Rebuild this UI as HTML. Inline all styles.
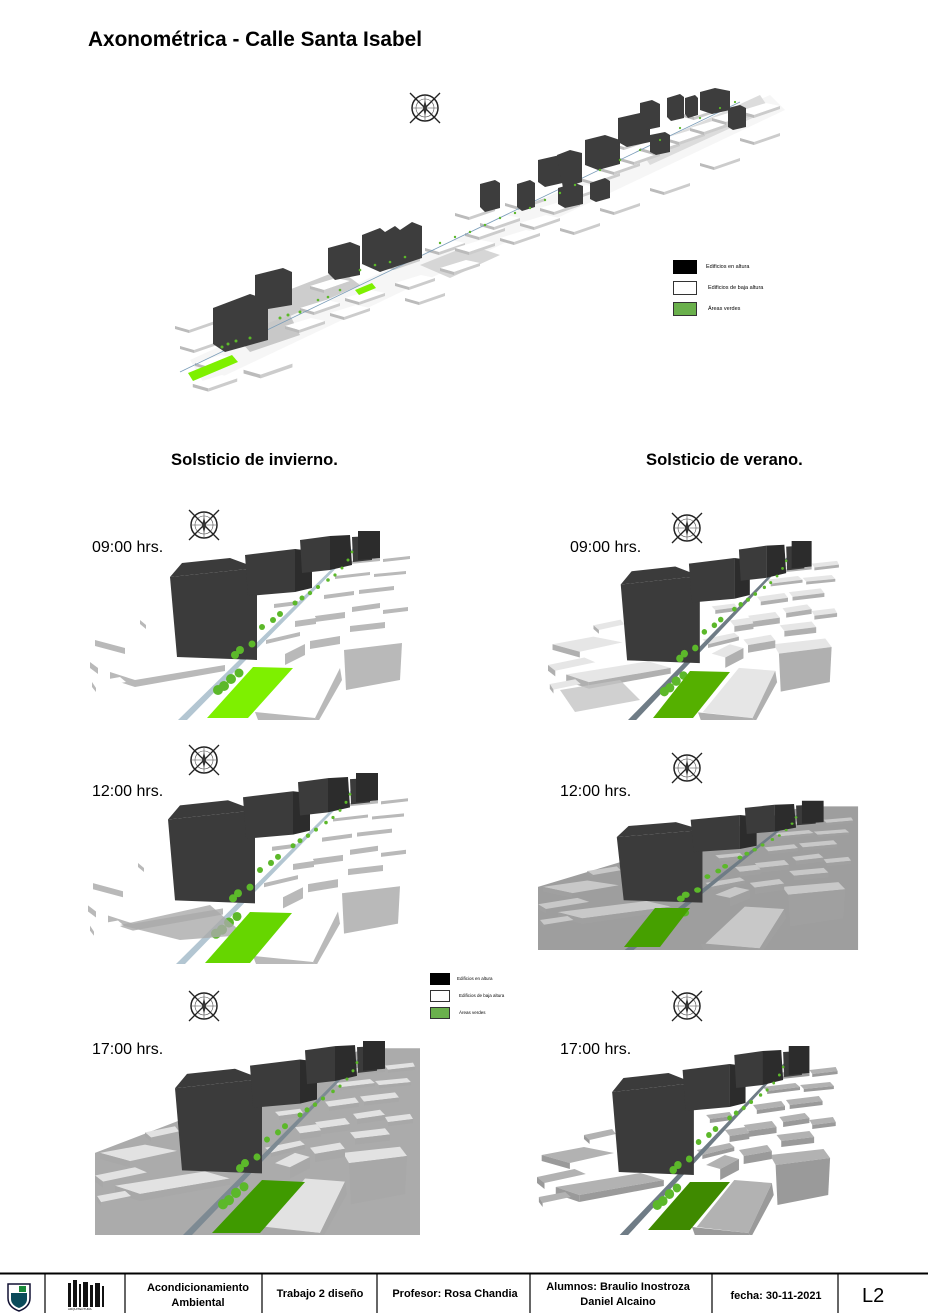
<!DOCTYPE html>
<html><head><meta charset="utf-8"><style>
html,body{margin:0;padding:0;background:#fff;}
svg{display:block;font-family:"Liberation Sans",sans-serif;}
.p1{--top:#fff;--side:#b9b9b9;--ground:none;--dark:#3b3b3b;--dark2:#2c2c2c;--road:#b3c6d2;}
.p2{--top:#e2e2e2;--side:#a8a8a8;--ground:#ababab;--dark:#3b3b3b;--dark2:#2c2c2c;--road:#7d8a93;}
.p3{--top:#c8c8c8;--side:#a0a0a0;--ground:#9e9e9e;--dark:#3b3b3b;--dark2:#2c2c2c;--road:#6f7c86;}
.p4{--top:#b2b2b2;--side:#9a9a9a;--ground:none;--dark:#3b3b3b;--dark2:#2c2c2c;--road:#6f7c86;}
</style></head><body>
<svg width="928" height="1313" viewBox="0 0 928 1313" xmlns="http://www.w3.org/2000/svg">
<defs>
<symbol id="blk" viewBox="0 0 40 18" overflow="visible">
<polygon points="0,8 26,0 40,3 14,12" fill="#fff"/>
<polygon points="0,8 14,12 14,15 0,11" fill="#bbb"/>
<polygon points="14,12 40,3 40,6 14,15" fill="#ccc"/>
</symbol>
<symbol id="cmp" viewBox="0 0 40 40" overflow="visible">
<circle cx="20" cy="20" r="13" fill="none" stroke="#222" stroke-width="1.5"/>
<circle cx="20" cy="20" r="9" fill="none" stroke="#555" stroke-width="0.6"/>
<line x1="5" y1="5" x2="35" y2="35" stroke="#222" stroke-width="1.3"/>
<line x1="35" y1="5" x2="5" y2="35" stroke="#222" stroke-width="1.3"/>
<line x1="20" y1="8" x2="20" y2="32" stroke="#444" stroke-width="0.6"/>
<line x1="8" y1="20" x2="32" y2="20" stroke="#444" stroke-width="0.6"/>
<polygon points="20,12 22,20 20,28 18,20" fill="#333"/>
</symbol>
<symbol id="scene" viewBox="0 -10 330 190" preserveAspectRatio="none">
<polygon points="0,100 200,25 270,-2 325,-2 325,185 0,185" style="fill:var(--ground)"/>
<polygon points="5,100 50,92 82,98 35,108" style="fill:var(--top)"/><polygon points="5,100 35,108 35,114 5,106" style="fill:var(--side)"/>
<polygon points="0,122 40,114 52,119 8,128" style="fill:var(--top)"/><polygon points="0,122 8,128 8,134 0,128" style="fill:var(--side)"/>
<polygon points="20,132 110,118 135,125 45,140" style="fill:var(--top)"/><polygon points="20,132 45,140 45,147 20,139" style="fill:var(--side)"/><polygon points="45,140 135,125 135,131 45,147" style="fill:var(--side)"/>
<polygon points="50,80 80,74 84,79 56,85" style="fill:var(--top)"/><polygon points="50,80 56,85 56,89 50,84" style="fill:var(--side)"/>
<polygon points="2,142 30,137 36,142 6,148" style="fill:var(--top)"/><polygon points="2,142 6,148 6,152 2,147" style="fill:var(--side)"/>
<polygon points="170,172 210,125 250,128 225,178" style="fill:var(--top)"/><polygon points="225,178 250,128 252,140 228,182" style="fill:var(--side)"/><polygon points="165,172 225,178 228,182 168,180" style="fill:var(--side)"/>
<polygon points="248,100 305,94 312,103 254,110" style="fill:var(--top)"/><polygon points="254,110 312,103 310,140 256,150" style="fill:var(--side)"/>
<polygon points="180,110 200,100 215,104 195,114" style="fill:var(--top)"/><polygon points="195,114 215,104 215,115 195,125" style="fill:var(--side)"/>
<polygon points="170,95 205,88 210,92 176,100" style="fill:var(--top)"/><polygon points="176,100 210,92 210,96 176,104" style="fill:var(--side)"/>
<polygon points="215,95 245,90 250,96 220,101" style="fill:var(--top)"/><polygon points="220,101 250,96 250,104 220,109" style="fill:var(--side)"/>
<polygon points="220,70 250,66 255,72 225,76" style="fill:var(--top)"/><polygon points="225,76 255,72 255,78 225,82" style="fill:var(--side)"/>
<polygon points="255,80 290,76 295,82 260,86" style="fill:var(--top)"/><polygon points="260,86 295,82 295,88 260,92" style="fill:var(--side)"/>
<polygon points="258,62 285,58 290,63 262,67" style="fill:var(--top)"/><polygon points="262,67 290,63 290,68 262,72" style="fill:var(--side)"/>
<polygon points="290,65 315,62 318,67 293,70" style="fill:var(--top)"/><polygon points="293,70 318,67 318,71 293,74" style="fill:var(--side)"/>
<polygon points="230,50 260,46 264,51 234,55" style="fill:var(--top)"/><polygon points="234,55 264,51 264,55 234,59" style="fill:var(--side)"/>
<polygon points="265,45 300,41 304,46 269,50" style="fill:var(--top)"/><polygon points="269,50 304,46 304,50 269,54" style="fill:var(--side)"/>
<polygon points="240,32 275,28 280,32 245,36" style="fill:var(--top)"/><polygon points="245,36 280,32 280,35 245,39" style="fill:var(--side)"/>
<polygon points="280,30 312,27 316,31 284,34" style="fill:var(--top)"/><polygon points="284,34 316,31 316,34 284,37" style="fill:var(--side)"/>
<polygon points="255,18 285,15 290,18 260,21" style="fill:var(--top)"/><polygon points="260,21 290,18 290,21 260,24" style="fill:var(--side)"/>
<polygon points="290,15 318,12 320,16 293,19" style="fill:var(--top)"/><polygon points="293,19 320,16 320,19 293,22" style="fill:var(--side)"/>
<polygon points="200,75 222,72 226,78 205,81" style="fill:var(--top)"/><polygon points="205,81 226,78 226,84 205,87" style="fill:var(--side)"/>
<polygon points="180,60 205,57 208,61 184,64" style="fill:var(--top)"/><polygon points="184,64 208,61 208,65 184,68" style="fill:var(--side)"/>
<polygon points="88,180 97,180 266,8 263,8" style="fill:var(--road)"/>
<polygon points="92,23 140,18 167,28 80,37" style="fill:var(--dark)"/>
<polygon points="80,37 167,28 167,120 87,117" style="fill:var(--dark)"/>
<polygon points="155,15 205,9 205,52 158,56" style="fill:var(--dark)"/>
<polygon points="205,9 222,11 222,48 205,52" style="fill:var(--dark2)"/>
<polygon points="210,0 240,-4 240,30 212,33" style="fill:var(--dark)"/>
<polygon points="240,-4 260,-5 262,25 240,30" style="fill:var(--dark2)"/>
<polygon points="262,-3 282,-4 282,20 263,22" style="fill:var(--dark)"/>
<polygon points="268,-9 290,-9 290,18 268,20" style="fill:var(--dark2)"/>
<g fill="#5cb82a">
<circle cx="128" cy="150" r="5"/><circle cx="134" cy="146" r="5"/><circle cx="141" cy="139" r="5"/><circle cx="149" cy="133" r="4.5"/>
<circle cx="145" cy="115" r="4"/><circle cx="150" cy="110" r="4"/><circle cx="162" cy="104" r="3.5"/>
<circle cx="172" cy="87" r="3"/><circle cx="183" cy="80" r="3"/><circle cx="190" cy="74" r="3"/>
<circle cx="205" cy="63" r="2.5"/><circle cx="212" cy="58" r="2.5"/><circle cx="220" cy="53" r="2.2"/><circle cx="228" cy="47" r="2"/>
<circle cx="238" cy="40" r="1.8"/><circle cx="245" cy="35" r="1.6"/><circle cx="252" cy="28" r="1.5"/><circle cx="258" cy="20" r="1.5"/><circle cx="262" cy="12" r="1.4"/>
</g>
</symbol>
</defs>

<text x="88" y="46" font-size="20.8" font-weight="bold">Axonométrica - Calle Santa Isabel</text>

<use href="#cmp" x="405" y="88" width="40" height="40"/>
<g>
<polygon points="190,360 770,95 785,110 205,385" fill="#f6f6f6"/>
<polygon points="420,265 470,245 500,255 450,278" fill="#d6d6d6"/>
<polygon points="250,305 340,270 360,285 270,325" fill="#cdcdcd"/>
<polygon points="235,335 290,315 300,335 250,352" fill="#c8c8c8"/>
<polygon points="640,150 760,95 770,110 650,165" fill="#dcdcdc"/>
<use href="#blk" x="175" y="318" width="40" height="18"/>
<use href="#blk" x="180" y="338" width="40" height="18"/>
<use href="#blk" x="195" y="355" width="40" height="18"/>
<use href="#blk" x="238" y="360" width="60" height="22"/>
<use href="#blk" x="190" y="375" width="50" height="20"/>
<use href="#blk" x="285" y="318" width="40" height="18"/>
<use href="#blk" x="300" y="300" width="40" height="18"/>
<use href="#blk" x="310" y="278" width="40" height="18"/>
<use href="#blk" x="330" y="305" width="40" height="18"/>
<use href="#blk" x="345" y="290" width="40" height="18"/>
<use href="#blk" x="380" y="255" width="40" height="18"/>
<use href="#blk" x="395" y="275" width="40" height="18"/>
<use href="#blk" x="405" y="290" width="40" height="18"/>
<use href="#blk" x="425" y="240" width="40" height="18"/>
<use href="#blk" x="440" y="260" width="40" height="18"/>
<use href="#blk" x="455" y="240" width="40" height="18"/>
<use href="#blk" x="465" y="225" width="40" height="18"/>
<use href="#blk" x="480" y="215" width="40" height="18"/>
<use href="#blk" x="500" y="230" width="40" height="18"/>
<use href="#blk" x="520" y="215" width="40" height="18"/>
<use href="#blk" x="540" y="200" width="40" height="18"/>
<use href="#blk" x="560" y="185" width="40" height="18"/>
<use href="#blk" x="580" y="170" width="40" height="18"/>
<use href="#blk" x="600" y="160" width="40" height="18"/>
<use href="#blk" x="620" y="150" width="40" height="18"/>
<use href="#blk" x="640" y="140" width="40" height="18"/>
<use href="#blk" x="665" y="130" width="40" height="18"/>
<use href="#blk" x="690" y="120" width="40" height="18"/>
<use href="#blk" x="712" y="110" width="40" height="18"/>
<use href="#blk" x="740" y="103" width="40" height="18"/>
<use href="#blk" x="455" y="205" width="40" height="18"/>
<use href="#blk" x="505" y="195" width="40" height="18"/>
<use href="#blk" x="610" y="135" width="40" height="18"/>
<use href="#blk" x="680" y="105" width="40" height="18"/>
<use href="#blk" x="560" y="220" width="40" height="18"/>
<use href="#blk" x="600" y="200" width="40" height="18"/>
<use href="#blk" x="650" y="180" width="40" height="18"/>
<use href="#blk" x="700" y="155" width="40" height="18"/>
<use href="#blk" x="740" y="130" width="40" height="18"/>
<line x1="180" y1="372" x2="740" y2="102" stroke="#7a9cb8" stroke-width="0.8"/>
<polygon points="188,373 232,355 238,362 193,381" fill="#7ef000"/>
<polygon points="355,290 372,283 376,288 359,295" fill="#7ef000"/>
<g fill="#3d3d3d">
<polygon points="213,308 250,294 268,300 268,340 225,352 213,344"/>
<polygon points="255,275 283,268 292,272 292,305 262,310 255,302"/>
<polygon points="328,248 350,242 360,246 360,275 335,280 328,273"/>
<polygon points="362,235 380,228 385,232 395,226 400,230 412,222 422,226 422,258 380,272 362,264"/>
<polygon points="480,184 495,180 500,183 500,208 485,212 480,207"/>
<polygon points="517,184 530,180 535,183 535,207 522,211 517,207"/>
<polygon points="538,160 560,155 567,158 567,182 545,187 538,182"/>
<polygon points="557,155 570,150 582,153 582,182 563,188"/>
<polygon points="558,188 575,183 583,186 583,204 565,208 558,204"/>
<polygon points="590,183 605,178 610,181 610,198 596,202 590,199"/>
<polygon points="585,140 605,135 620,140 620,164 598,170 585,165"/>
<polygon points="618,118 640,113 650,116 650,142 627,147 618,142"/>
<polygon points="640,103 652,100 660,104 660,127 646,130 640,126"/>
<polygon points="650,135 665,132 670,135 670,152 656,155 650,152"/>
<polygon points="667,98 680,94 684,97 684,118 671,121 667,117"/>
<polygon points="685,98 695,95 698,98 698,115 688,118 685,114"/>
<polygon points="700,92 715,88 730,91 730,110 712,114 700,110"/>
<polygon points="728,108 740,105 746,108 746,127 733,130 728,127"/>
</g>
<g fill="#5cb82a">
<circle cx="222" cy="347" r="1.5"/><circle cx="228" cy="344" r="1.5"/><circle cx="236" cy="341" r="1.5"/><circle cx="250" cy="338" r="1.5"/>
<circle cx="280" cy="318" r="1.5"/><circle cx="288" cy="315" r="1.5"/><circle cx="300" cy="312" r="1.5"/>
<circle cx="318" cy="300" r="1.3"/><circle cx="328" cy="297" r="1.3"/><circle cx="340" cy="290" r="1.3"/>
<circle cx="360" cy="270" r="1.3"/><circle cx="375" cy="265" r="1.3"/><circle cx="390" cy="262" r="1.3"/><circle cx="405" cy="257" r="1.3"/>
<circle cx="440" cy="243" r="1.2"/><circle cx="455" cy="237" r="1.2"/><circle cx="470" cy="232" r="1.2"/><circle cx="485" cy="225" r="1.2"/>
<circle cx="500" cy="218" r="1.2"/><circle cx="515" cy="213" r="1.2"/><circle cx="530" cy="208" r="1.2"/><circle cx="545" cy="200" r="1.2"/>
<circle cx="560" cy="193" r="1.2"/><circle cx="575" cy="185" r="1.2"/><circle cx="600" cy="170" r="1.2"/><circle cx="620" cy="160" r="1.2"/>
<circle cx="640" cy="150" r="1.1"/><circle cx="660" cy="140" r="1.1"/><circle cx="680" cy="128" r="1.1"/><circle cx="700" cy="118" r="1.1"/><circle cx="720" cy="108" r="1.1"/><circle cx="735" cy="102" r="1.1"/>
</g>
</g>
<rect x="673" y="260" width="24" height="14" fill="#000"/>
<rect x="673.5" y="281.5" width="23" height="13" fill="#fff" stroke="#333"/>
<rect x="673.5" y="302.5" width="23" height="13" fill="#6ab04c" stroke="#333"/>
<text x="706" y="268" font-size="5.5">Edificios en altura</text>
<text x="708" y="289" font-size="5.5">Edificios de baja altura</text>
<text x="708" y="310" font-size="5.5">Áreas verdes</text>

<text x="171" y="465" font-size="16.6" font-weight="bold">Solsticio de invierno.</text>
<text x="646" y="465" font-size="16.6" font-weight="bold">Solsticio de verano.</text>

<use href="#cmp" x="184" y="505" width="40" height="40"/>
<use href="#cmp" x="667" y="508" width="40" height="40"/>
<use href="#cmp" x="184" y="740" width="40" height="40"/>
<use href="#cmp" x="667" y="748" width="40" height="40"/>
<use href="#cmp" x="184" y="986" width="40" height="40"/>
<use href="#cmp" x="667" y="986" width="40" height="40"/>

<text x="92" y="552" font-size="16">09:00 hrs.</text>
<text x="570" y="552" font-size="16">09:00 hrs.</text>
<text x="92" y="796" font-size="16">12:00 hrs.</text>
<text x="560" y="796" font-size="16">12:00 hrs.</text>
<text x="92" y="1054" font-size="16">17:00 hrs.</text>
<text x="560" y="1054" font-size="16">17:00 hrs.</text>

<g class="p1"><use href="#scene" x="90" y="530" width="330" height="190"/></g>
<polygon points="207,718 253,667 293,668 248,718" fill="#7ef000"/>
<g class="p1"><use href="#scene" x="88" y="772" width="330" height="192"/></g>
<polygon points="120,925 210,905 245,935 180,940" fill="#aaa" opacity="0.8"/>
<polygon points="205,963 250,912 292,913 250,963" fill="#66d600"/>
<g class="p2"><use href="#scene" x="95" y="1040" width="330" height="195"/></g>
<polygon points="212,1233 262,1180 305,1182 260,1233" fill="#3f9a00"/>
<g class="p4" style="--top:#e6e6e6;--side:#b0b0b0;--ground:none"><use href="#scene" x="548" y="540" width="300" height="180"/></g>
<polygon points="560,690 620,680 640,700 575,712" fill="#c4c4c4" opacity="0.8"/>
<polygon points="653,718 690,671 730,672 693,718" fill="#55b000"/>
<g class="p3"><use href="#scene" x="538" y="800" width="325" height="150"/></g>
<polygon points="624,947 655,908 690,908 660,947" fill="#46a000"/>
<g class="p4"><use href="#scene" x="537" y="1045" width="310" height="190"/></g>
<polygon points="648,1230 690,1182 730,1182 690,1230" fill="#3f8a00"/>

<rect x="430" y="973" width="20" height="12" fill="#000"/>
<rect x="430.5" y="990.5" width="19" height="11" fill="#fff" stroke="#333"/>
<rect x="430.5" y="1007.5" width="19" height="11" fill="#6ab04c" stroke="#333"/>
<text x="457" y="980" font-size="4.5">Edificios en altura</text>
<text x="459" y="997" font-size="4.5">Edificios de baja altura</text>
<text x="459" y="1014" font-size="4.5">Áreas verdes</text>

<line x1="0" y1="1273.5" x2="928" y2="1273.5" stroke="#000" stroke-width="2"/>
<g stroke="#000" stroke-width="1.2">
<line x1="45" y1="1274" x2="45" y2="1313"/><line x1="125" y1="1274" x2="125" y2="1313"/>
<line x1="262" y1="1274" x2="262" y2="1313"/><line x1="377" y1="1274" x2="377" y2="1313"/>
<line x1="530" y1="1274" x2="530" y2="1313"/><line x1="712" y1="1274" x2="712" y2="1313"/>
<line x1="838" y1="1274" x2="838" y2="1313"/>
</g>
<path d="M8,1284 H30 V1298 Q30,1307 19,1311 Q8,1307 8,1298 Z" fill="#fff" stroke="#113" stroke-width="1.5"/>
<path d="M11,1293 H27 V1299 Q27,1305 19,1308 Q11,1305 11,1299 Z" fill="#0a4a5a"/>
<rect x="19" y="1286" width="7" height="6" fill="#1a8a3a"/>
<g fill="#111">
<rect x="68" y="1283" width="3" height="24"/><rect x="73" y="1280" width="4" height="27"/><rect x="79" y="1284" width="2" height="23"/>
<rect x="83" y="1282" width="5" height="25"/><rect x="90" y="1285" width="3" height="22"/><rect x="95" y="1283" width="5" height="24"/><rect x="102" y="1286" width="2" height="21"/>
</g>
<text x="68" y="1310" font-size="3">ARQUITECTURA</text>
<g font-size="11" font-weight="bold" text-anchor="middle">
<text x="198" y="1291">Acondicionamiento</text><text x="198" y="1306">Ambiental</text>
<text x="320" y="1297">Trabajo 2 diseño</text>
<text x="455" y="1297">Profesor: Rosa Chandia</text>
<text x="618" y="1290">Alumnos:  Braulio Inostroza</text><text x="618" y="1305">Daniel Alcaino</text>
<text x="776" y="1299">fecha: 30-11-2021</text>
</g>
<text x="862" y="1302" font-size="20">L2</text>
</svg>
</body></html>
